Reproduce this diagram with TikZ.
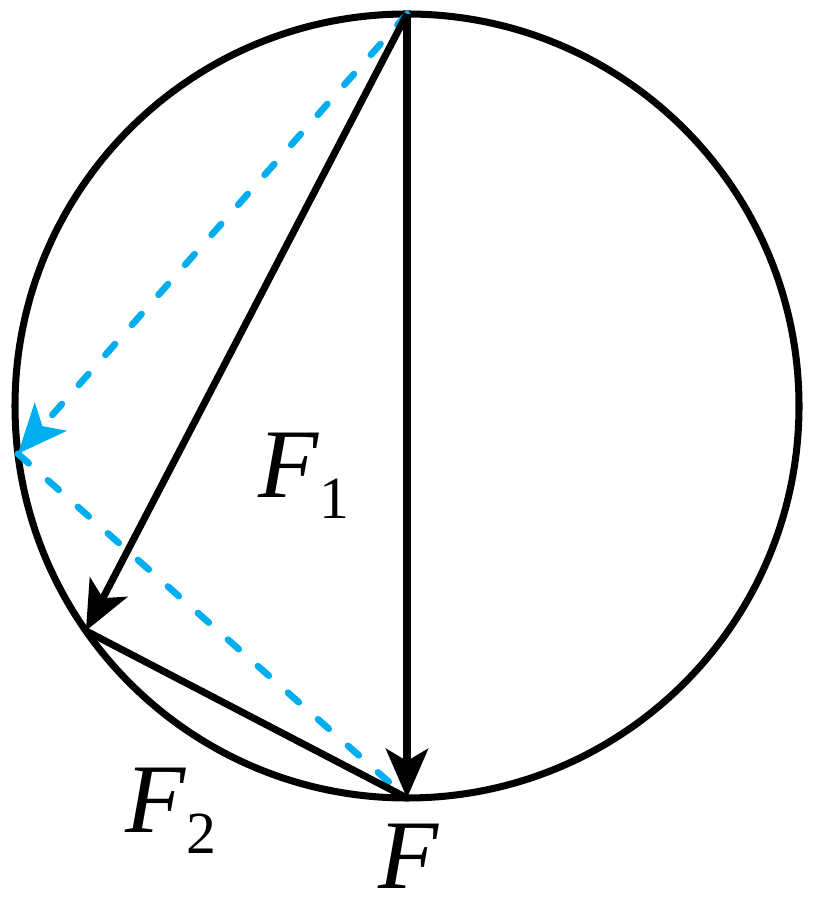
\documentclass[tikz,border=0pt]{standalone}
\usepackage{fontspec}
\setmainfont{Liberation Serif}
\usetikzlibrary{arrows.meta,calc}
\definecolor{forceblue}{RGB}{0,174,239}
\newcommand{\force}[1]{\textit{F}\raisebox{-5.7pt}{\fontsize{17}{17}\selectfont #1}}

\begin{document}
\begin{tikzpicture}[line width=2pt,every node/.style={inner sep=0pt,font=\fontsize{28}{28}\selectfont},
      >={Stealth[length=14pt,width=12pt,inset=3.5pt]},
      comp/.style={forceblue,line width=1.9pt,line cap=round,dash pattern=on 4.1pt off 7.3pt}]
  \useasboundingbox(0,0)rectangle(8.15,9.12);
  \coordinate(O)at(4.07,5.06);
  \coordinate(T)at($(O)+(90:3.92)$);
  \coordinate(B)at($(O)+(270:3.92)$);
  \coordinate(A)at($(O)+(215:3.92)$);
  \coordinate(D)at($(O)+(187:3.92)$);
  \draw(O)circle[radius=3.92];
  \draw[comp,->](T)--(D);\draw[comp](D)--(B);
  \draw[->](T)--(A);
  \draw[->](T)--(B);
  \draw(A)--(B);
  \node[anchor=base west](f1)at(2.55,4.14){\force{1}};
  \node[anchor=base west](f2)at(1.22,0.79){\force{2}};
  \node[anchor=base west](f)at(3.75,0.23){\textit{F}};
\end{tikzpicture}
\end{document}
